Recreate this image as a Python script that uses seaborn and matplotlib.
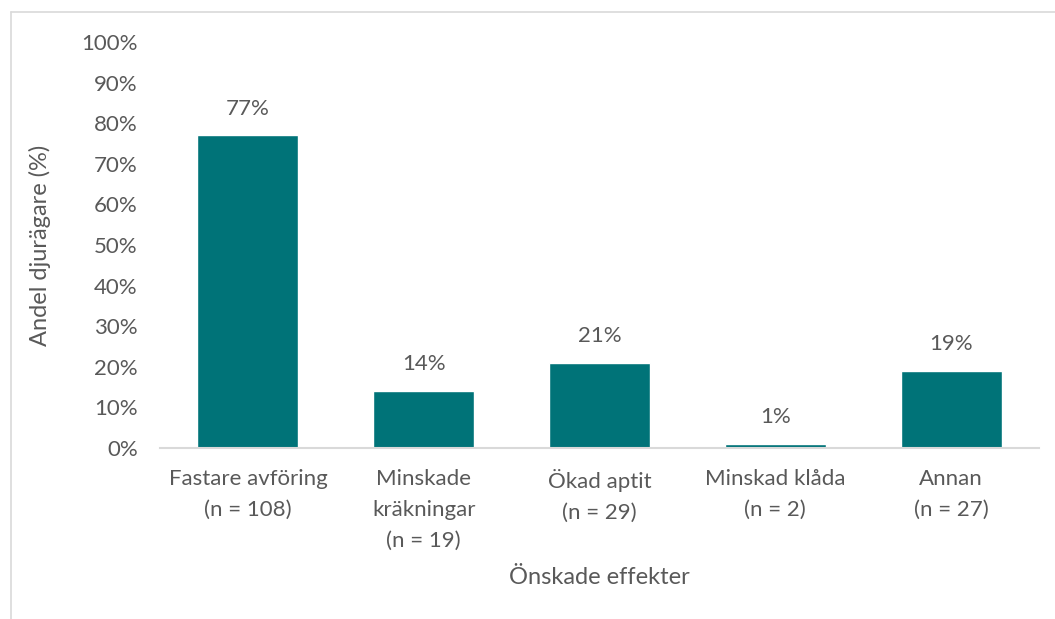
import matplotlib
matplotlib.use("Agg")
import matplotlib.pyplot as plt
import seaborn as sns
import pandas as pd
from matplotlib.ticker import PercentFormatter, MultipleLocator

# Data
categories = ["Fastare avföring\n(n = 108)", "Minskade\nkräkningar\n(n = 19)",
              "Ökad aptit\n(n = 29)", "Minskad klåda\n(n = 2)", "Annan\n(n = 27)"]
shares = [0.77, 0.14, 0.21, 0.01, 0.19]
value_labels = ["77%", "14%", "21%", "1%", "19%"]

df = pd.DataFrame({"effekt": categories, "andel": shares})

sns.set_theme(style="white")
plt.rcParams["font.family"] = ["Lato", "DejaVu Sans"]

text_color = "#595959"
bar_color = "#007378"
frame_color = "#d9d9d9"

fig = plt.figure(figsize=(10.55, 6.19), dpi=100)
ax = fig.add_axes([160 / 1055, 1 - 448 / 619, 879 / 1055, (448 - 42) / 619])

sns.barplot(data=df, x="effekt", y="andel", color=bar_color, width=0.575,
            saturation=1, ax=ax)

ax.set_ylim(0, 1.0)
ax.set_xlim(-0.5, 4.5)
ax.yaxis.set_major_locator(MultipleLocator(0.1))
ax.yaxis.set_major_formatter(PercentFormatter(1.0, decimals=0))

for side in ["top", "right", "left"]:
    ax.spines[side].set_visible(False)
ax.spines["bottom"].set_color(frame_color)
ax.spines["bottom"].set_linewidth(1.5)

ax.tick_params(axis="both", length=0, labelsize=16, colors=text_color)
ax.tick_params(axis="y", pad=16)
ax.tick_params(axis="x", pad=15)
for lbl in ax.get_xticklabels():
    lbl.set_linespacing(1.68)

ax.set_xlabel("Önskade effekter", fontsize=17, color=text_color, labelpad=12)
ax.set_ylabel("Andel djurägare (%)", fontsize=17, color=text_color, labelpad=22)

for i, (v, t) in enumerate(zip(shares, value_labels)):
    ax.annotate(t, (i, v), xytext=(0, 12), textcoords="offset points",
                ha="center", va="bottom", fontsize=16, color=text_color)

# Chart area frame (top and left edges)
fig.add_artist(plt.Line2D([11 / 1055, 1], [1 - 12 / 619, 1 - 12 / 619],
                          color=frame_color, lw=1.2, transform=fig.transFigure))
fig.add_artist(plt.Line2D([11 / 1055, 11 / 1055], [0, 1 - 12 / 619],
                          color=frame_color, lw=1.2, transform=fig.transFigure))

fig.savefig("out.png", dpi=100)
